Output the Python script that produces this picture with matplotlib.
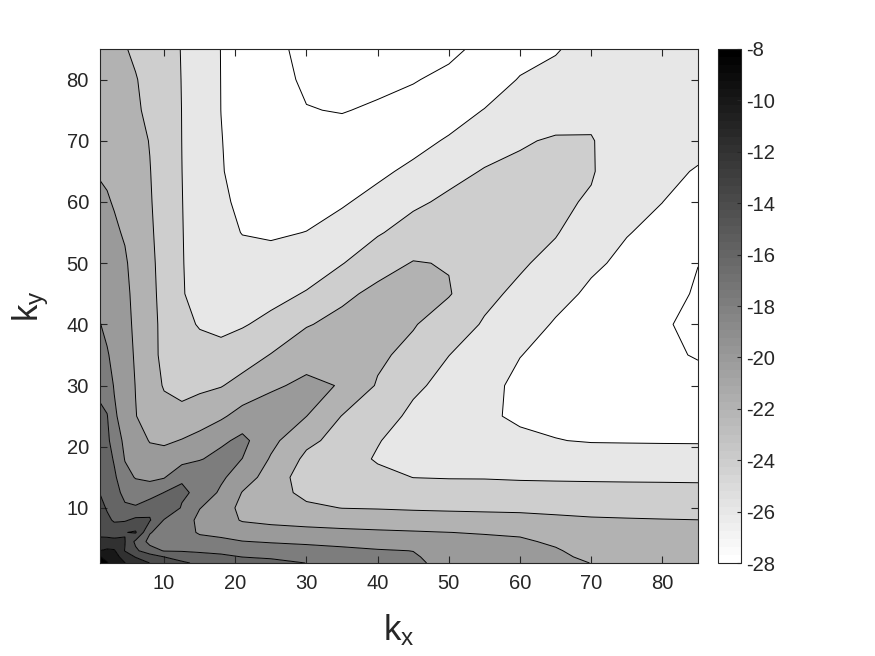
import numpy as np
import matplotlib
matplotlib.use("Agg")
import matplotlib.pyplot as plt
from matplotlib.colors import ListedColormap, Normalize
from matplotlib.cm import ScalarMappable

plt.rcParams['font.family'] = ['Liberation Sans', 'DejaVu Sans']
plt.rcParams['mathtext.default'] = 'regular'
plt.rcParams['axes.unicode_minus'] = False

# grid coordinates (k_x along columns, k_y along rows)
kx = [1, 2, 3, 4.5, 6, 8, 10, 12.5, 15, 18, 21, 25, 30, 35, 40, 45, 50, 55, 60, 65, 70, 75, 80, 85]
ky = [1, 2, 3, 4.5, 6, 8, 10, 12.5, 15, 18, 21, 25, 30, 35, 40, 45, 50, 55, 60, 65, 70, 75, 80, 85]

# field values (dB), one row per ky value
row_01 = [-7.5, -7.88, -8.61, -9.95, -10.82, -12.02, -12.8, -13.8, -14.24, -14.59, -14.94, -15.41, -16.02, -16.61, -17.21, -17.82, -18.30, -18.74, -19.17, -19.6, -20.02, -20.28, -20.54, -20.8]
row_02 = [-7.92, -8.55, -9.20, -10.86, -12.1, -13.0, -14.0, -14.48, -14.94, -15.5, -16.03, -16.26, -16.55, -17.04, -17.48, -17.85, -18.58, -18.95, -19.32, -19.72, -20.28, -20.51, -20.74, -20.97]
row_03 = [-9.98, -9.64, -9.79, -12.08, -13.64, -15.14, -16.11, -16.17, -16.41, -16.58, -16.78, -17.01, -17.27, -17.59, -17.86, -18.02, -18.93, -19.23, -19.50, -19.86, -20.54, -20.74, -20.94, -21.14]
row_04 = [-11.67, -11.49, -11.39, -11.93, -14.4, -16.6, -16.64, -16.74, -17.40, -17.65, -17.94, -18.15, -18.35, -18.54, -18.75, -18.94, -19.46, -19.64, -19.79, -20.22, -20.93, -21.09, -21.24, -21.39]
row_06 = [-12.33, -12.58, -13.0, -12.07, -11.8, -15.86, -16.82, -17.3, -18.19, -18.43, -19.04, -19.31, -19.46, -19.60, -19.74, -19.86, -19.99, -20.10, -20.21, -20.84, -21.32, -21.43, -21.54, -21.65]
row_08 = [-12.89, -13.64, -14.20, -14.21, -13.54, -13.85, -16.11, -16.74, -18.58, -19.29, -20.13, -20.40, -20.65, -20.86, -20.99, -21.11, -21.21, -21.31, -21.40, -21.66, -21.83, -21.89, -21.94, -21.98]
row_10 = [-13.44, -14.16, -14.61, -15.62, -15.77, -14.5, -14.2, -16.18, -17.93, -19.07, -20.5, -21.13, -21.66, -22.03, -22.10, -22.21, -22.28, -22.33, -22.38, -22.43, -22.49, -22.54, -22.59, -22.63]
row_12 = [-14.06, -14.45, -15.12, -16.65, -17.10, -17.10, -15.96, -15.64, -16.5, -18.37, -20.07, -21.21, -22.47, -22.70, -22.79, -23.13, -23.23, -23.27, -23.32, -23.35, -23.38, -23.41, -23.44, -23.47]
row_15 = [-14.39, -14.74, -15.63, -17.48, -18.09, -18.33, -18.13, -16.25, -16.2, -17.62, -19.19, -20.72, -23.1, -23.37, -23.48, -24.02, -24.08, -24.09, -24.17, -24.21, -24.24, -24.26, -24.27, -24.29]
row_18 = [-14.77, -15.10, -16.22, -18.08, -18.54, -19.25, -19.21, -18.79, -18.15, -17.31, -18.02, -20.18, -22.42, -23.12, -24.19, -24.46, -24.58, -24.57, -24.88, -25.08, -25.16, -25.21, -25.23, -25.26]
row_21 = [-15.16, -15.55, -16.95, -18.4, -19.15, -20.1, -20.3, -19.91, -19.39, -18.40, -17.5, -19.48, -21.56, -22.66, -23.89, -24.9, -25.07, -25.05, -25.60, -25.95, -26.1, -26.12, -26.14, -26.15]
row_25 = [-15.68, -15.9, -17.7, -18.85, -19.93, -20.9, -21.3, -21.35, -20.93, -20.29, -19.27, -19.03, -19.98, -22.06, -23.13, -24.41, -25.16, -25.69, -26.31, -26.39, -26.45, -26.44, -26.50, -26.73]
row_30 = [-16.39, -17.1, -18.12, -19.0, -20.05, -21.1, -22.15, -22.7, -22.39, -22.10, -21.35, -20.27, -19.63, -20.1, -22.19, -23.66, -24.57, -25.36, -26.49, -26.9, -26.98, -26.92, -27.04, -27.52]
row_35 = [-17.17, -17.85, -18.45, -19.25, -20.2, -21.37, -22.45, -23.5, -23.33, -23.32, -22.92, -21.93, -20.66, -20.25, -21.60, -22.64, -23.98, -24.75, -25.95, -26.63, -27.30, -27.41, -27.75, -28.10]
row_40 = [-17.95, -18.38, -18.85, -19.5, -20.3, -21.43, -22.45, -23.55, -24.13, -24.5, -24.15, -23.51, -22.15, -21.38, -21.30, -21.84, -23.16, -24.15, -25.15, -26.17, -26.80, -27.32, -27.85, -28.35]
row_45 = [-18.42, -18.75, -19.1, -19.6, -20.45, -21.51, -22.57, -23.88, -24.6, -25.1, -24.78, -24.59, -23.87, -22.45, -21.5, -21.5, -21.85, -23.61, -24.35, -25.43, -26.31, -26.84, -27.29, -28.22]
row_50 = [-18.87, -19.09, -19.45, -19.8, -20.6, -21.61, -22.63, -23.9, -24.8, -25.5, -25.41, -25.44, -24.95, -24.08, -22.78, -21.9, -22.1, -23.11, -23.79, -24.51, -25.71, -26.37, -26.85, -27.97]
row_55 = [-19.31, -19.48, -19.77, -20.15, -20.92, -21.75, -22.69, -23.93, -24.83, -25.5, -26.05, -26.2, -25.97, -25.18, -24.18, -23.20, -22.88, -22.98, -23.42, -23.89, -24.95, -25.93, -26.41, -27.34]
row_60 = [-19.76, -19.88, -20.1, -20.55, -21.18, -21.87, -22.72, -23.96, -24.85, -25.66, -26.4, -26.6, -26.59, -26.21, -25.36, -24.35, -23.63, -23.43, -23.34, -23.65, -24.20, -25.60, -25.99, -26.71]
row_65 = [-20.10, -20.2, -20.4, -20.8, -21.4, -21.95, -22.78, -23.99, -24.87, -25.9, -26.55, -27.0, -27.2, -27.04, -26.40, -25.56, -24.59, -23.88, -23.70, -23.63, -23.84, -25.26, -25.74, -26.08]
row_70 = [-20.33, -20.45, -20.65, -21.0, -21.55, -22.05, -22.85, -24.01, -24.9, -25.95, -26.6, -27.3, -27.58, -27.6, -27.3, -26.67, -25.78, -24.82, -24.14, -23.85, -23.9, -24.93, -25.49, -25.68]
row_75 = [-20.55, -20.72, -20.94, -21.3, -21.8, -22.3, -23.0, -24.02, -24.93, -26.01, -26.65, -27.5, -27.96, -28.05, -27.86, -27.53, -26.96, -25.93, -25.0, -24.66, -24.40, -24.6, -25.24, -25.32]
row_80 = [-20.78, -20.99, -21.22, -21.6, -21.9, -22.57, -23.2, -24.04, -24.96, -26.02, -26.68, -27.6, -28.17, -28.3, -28.26, -28.08, -27.69, -27.2, -25.86, -25.40, -24.80, -24.7, -25.0, -24.96]
row_85 = [-21.0, -21.26, -21.51, -21.9, -22.3, -22.85, -23.4, -24.06, -25.0, -26.03, -26.70, -27.65, -28.35, -28.55, -28.6, -28.5, -28.3, -27.66, -26.91, -26.16, -25.2, -24.9, -24.75, -24.6]

field_rows = [row_01, row_02, row_03, row_04, row_06, row_08, row_10, row_12, row_15,
              row_18, row_21, row_25, row_30, row_35, row_40, row_45, row_50, row_55,
              row_60, row_65, row_70, row_75, row_80, row_85]

contour_levels = [-28, -26, -24, -22, -20, -18, -16, -14, -12, -10, -8]
cbar_ticks = [-28, -26, -24, -22, -20, -18, -16, -14, -12, -10, -8]

Z = np.array(field_rows)
X = np.array(kx)
Y = np.array(ky)

# MATLAB-like flipped 64-step gray colormap
cmap = ListedColormap([(g, g, g) for g in np.linspace(1.0, 0.0, 64)])
norm = Normalize(vmin=-28, vmax=-8)

fill_levels = [-100] + contour_levels + [100]
fill_colors = [(1, 1, 1)] + [cmap(norm(lv)) for lv in contour_levels]

fig = plt.figure(figsize=(8.75, 6.56), dpi=100)
ax = fig.add_axes([100/875, 93/656, 598/875, 514/656])

ax.contourf(X, Y, Z, levels=fill_levels, colors=fill_colors, antialiased=True)
ax.contour(X, Y, Z, levels=contour_levels, colors='k', linewidths=0.7,
           linestyles='solid')

ax.set_xlim(1, 85)
ax.set_ylim(1, 85)
ax.set_xticks([10, 20, 30, 40, 50, 60, 70, 80])
ax.set_yticks([10, 20, 30, 40, 50, 60, 70, 80])
axcol = '#262626'
ax.tick_params(direction='in', length=5, width=0.8, top=True, right=True,
               labelsize=14.5, colors=axcol, pad=8)
for s in ax.spines.values():
    s.set_color(axcol)
    s.set_linewidth(0.8)

ax.set_xlabel('$k_x$', fontsize=25, color=axcol, labelpad=14)
ax.set_ylabel('$k_y$', fontsize=25, color=axcol, labelpad=11)

cax = fig.add_axes([718/875, 93/656, 23/875, 514/656])
sm = ScalarMappable(norm=norm, cmap=cmap)
cb = fig.colorbar(sm, cax=cax, ticks=cbar_ticks)
cb.ax.tick_params(direction='in', length=3, width=0.8, labelsize=14.5, colors=axcol, pad=4)
cb.outline.set_edgecolor(axcol)
cb.outline.set_linewidth(0.8)

fig.savefig('out.png', dpi=100)
